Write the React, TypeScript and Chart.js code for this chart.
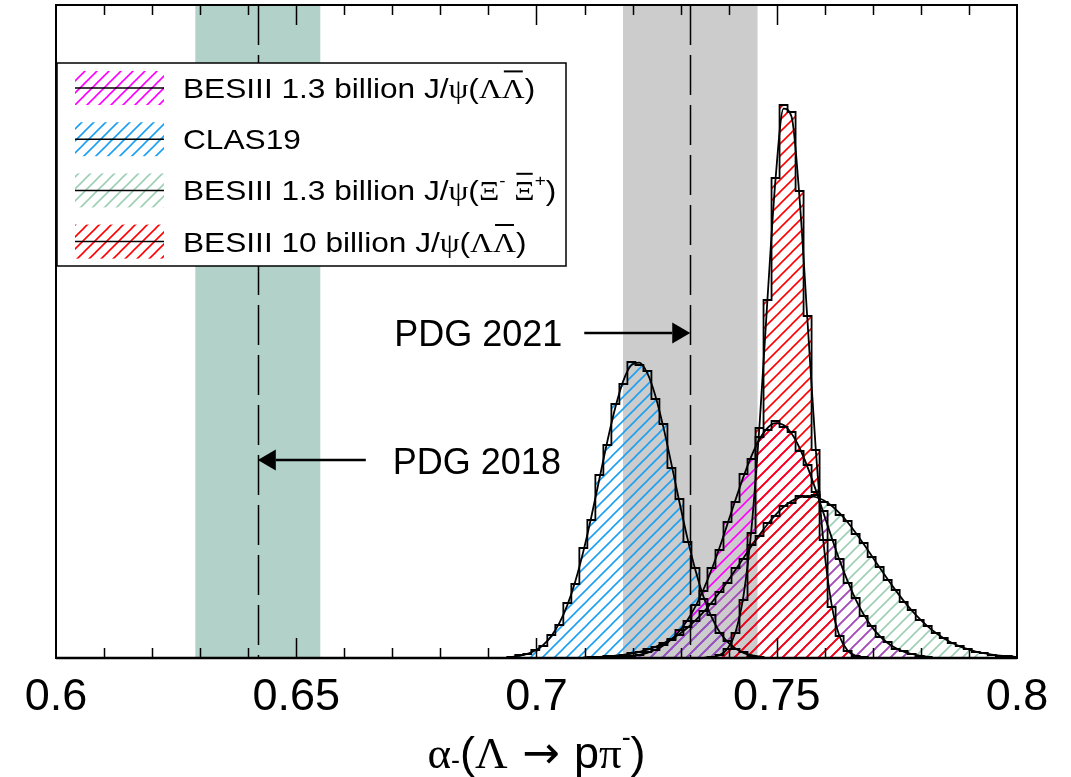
import React, { useEffect, useRef } from 'react';
import { Chart, registerables } from 'chart.js';

Chart.register(...registerables);

// ---------- axis ----------
const X_MIN = 0.6;
const X_MAX = 0.8;
const X_TICKS = [0.6, 0.65, 0.7, 0.75, 0.8];
const X_MINOR_STEP = 0.01;
const Y_MAX = 653;
const BIN_WIDTH = 1 / 600;

// ---------- PDG bands [central, error] ----------
const PDG_2018 = [0.642, 0.013];
const PDG_2021 = [0.732, 0.014];
const PDG_LABELS = ['PDG 2021', 'PDG 2018'];
const PDG_LABEL_Y = [325, 198];

// ---------- series names ----------
const SERIES_NAMES = [
  'BESIII 1.3 billion J/ψ(ΛΛ̄)',
  'CLAS19',
  'BESIII 1.3 billion J/ψ(Ξ⁻ Ξ̄⁺)',
  'BESIII 10 billion J/ψ(ΛΛ̄)',
];

// ---------- CLAS19 ----------
const CLAS_FIRST_EDGE = 0.693917;
const CLAS_HIST = [1, 3, 4, 8, 12, 23, 33, 55, 74, 110, 138, 183, 213, 254, 274, 296, 293, 287, 259, 234, 190, 159, 116, 90, 59, 43, 25, 17, 9, 6, 2, 1];
const CLAS_FIT = [1.1, 2.2, 4.1, 7.5, 13.1, 21.9, 34.8, 52.9, 76.8, 106.6, 141.3, 179.0, 216.8, 250.7, 277.4, 292.8, 295.3, 284.6, 262.1, 230.6, 193.9, 155.7, 119.6, 87.7, 61.4, 41.1, 26.3, 16.1, 9.4, 5.2, 2.8, 1.4];

// ---------- BESIII 1.3 billion J/psi (Lambda Lambdabar) ----------
const BES13_FIRST_EDGE = 0.71725;
const BES13_HIST = [1, 2, 3, 6, 8, 13, 18, 28, 37, 53, 67, 90, 108, 136, 156, 184, 199, 221, 228, 237, 231, 226, 207, 193, 166, 147, 118, 99, 75, 60, 42, 32, 21, 16, 9, 7, 4, 2, 1];
const BES13_FIT = [1.1, 1.9, 3.2, 5.2, 8.2, 12.5, 18.7, 27.0, 37.9, 51.7, 68.5, 88.2, 110.3, 134.1, 158.2, 181.4, 202.1, 218.7, 230.0, 234.8, 232.9, 224.4, 210.0, 190.9, 168.6, 144.6, 120.6, 97.6, 76.8, 58.7, 43.6, 31.4, 22.0, 15.0, 9.9, 6.4, 4.0, 2.4, 1.4];

// ---------- BESIII 1.3 billion J/psi (Xi- Xibar+) ----------
const XI_FIRST_EDGE = 0.708917;
const XI_HIST = [0, 1, 1, 2, 2, 3, 5, 6, 9, 11, 15, 19, 23, 31, 37, 47, 54, 66, 75, 90, 99, 113, 122, 135, 142, 152, 155, 162, 161, 163, 156, 153, 143, 137, 124, 115, 101, 91, 78, 68, 56, 48, 38, 32, 25, 20, 15, 12, 9, 6, 5, 3, 2, 2, 1];
const XI_FIT = [0.5, 0.7, 1.1, 1.6, 2.3, 3.2, 4.5, 6.2, 8.3, 11.1, 14.6, 18.9, 24.1, 30.3, 37.6, 45.9, 55.3, 65.5, 76.6, 88.2, 100.0, 111.9, 123.3, 133.8, 143.2, 151.0, 156.9, 160.6, 162.0, 161.0, 157.7, 152.2, 144.8, 135.7, 125.3, 114.0, 102.3, 90.4, 78.7, 67.6, 57.1, 47.6, 39.1, 31.6, 25.2, 19.8, 15.3, 11.7, 8.8, 6.5, 4.8, 3.4, 2.4, 1.7, 1.2];

// ---------- BESIII 10 billion J/psi (Lambda Lambdabar) ----------
const BES10_FIRST_EDGE = 0.73225;
const BES10_HIST = [0, 0, 1, 3, 9, 25, 58, 125, 230, 358, 480, 553, 546, 467, 342, 208, 118, 51, 22, 7, 2, 1];
const BES10_FIT = [0.03, 0.17, 0.74, 2.8, 9.2, 25.8, 62.3, 129.9, 233.0, 360.0, 479.0, 549.3, 541.3, 459.3, 335.6, 211.3, 114.5, 53.4, 21.5, 7.4, 2.2, 0.6];

// ---------- colours ----------
const COL_BES13 = '#ff00ff';
const COL_CLAS = '#1a9ff2';
const COL_XI = 'rgba(60,160,105,0.5)';
const COL_BES10 = '#ff0000';
const COL_BAND_2018 = '#b2d1c8';
const COL_BAND_2021 = '#cccccc';

const SANS = '"Liberation Sans", Arial, sans-serif';
const SERIF = '"Liberation Serif", "Times New Roman", serif';
const ARROWF = '"DejaVu Sans", sans-serif';

type Seg = { t: string; serif?: boolean; sup?: boolean; sub?: boolean; over?: boolean; fam?: string };

const LEGEND_RICH: Seg[][] = [
  [{ t: 'BESIII 1.3 billion J/' }, { t: 'ψ', serif: true }, { t: '(' }, { t: 'Λ', serif: true }, { t: 'Λ', serif: true, over: true }, { t: ')' }],
  [{ t: 'CLAS19' }],
  [{ t: 'BESIII 1.3 billion J/' }, { t: 'ψ', serif: true }, { t: '(' }, { t: 'Ξ', serif: true }, { t: '-', sup: true }, { t: ' ' }, { t: 'Ξ', serif: true, over: true }, { t: '+', sup: true }, { t: ')' }],
  [{ t: 'BESIII 10 billion J/' }, { t: 'ψ', serif: true }, { t: '(' }, { t: 'Λ', serif: true }, { t: 'Λ', serif: true, over: true }, { t: ')' }],
];

const TITLE_RICH: Seg[] = [
  { t: 'α', serif: true }, { t: '-', sub: true }, { t: '(' }, { t: 'Λ', serif: true }, { t: ' → ', fam: ARROWF },
  { t: 'p' }, { t: 'π', serif: true }, { t: '-', sup: true }, { t: ')' },
];

function histPoints(firstEdge: number, counts: number[]) {
  const pts = [{ x: firstEdge, y: 0 }];
  counts.forEach((c, i) => pts.push({ x: firstEdge + i * BIN_WIDTH, y: c }));
  pts.push({ x: firstEdge + counts.length * BIN_WIDTH, y: 0 });
  return pts;
}

function fitPoints(firstEdge: number, fit: number[]) {
  return fit.map((v, i) => ({ x: firstEdge + (i + 0.5) * BIN_WIDTH, y: v }));
}

function layoutRich(ctx: CanvasRenderingContext2D, segs: Seg[], size: number, scaleX: number) {
  let w = 0;
  const items = segs.map((s) => {
    const fs = s.sup || s.sub ? size * 0.6 : size;
    const fam = s.fam ? s.fam : s.serif ? SERIF : SANS;
    const font = `${fs}px ${fam}`;
    ctx.font = font;
    const sw = ctx.measureText(s.t).width * scaleX;
    const it = { ...s, font, x: w, w: sw };
    w += sw;
    return it;
  });
  return { items, width: w };
}

function drawRich(ctx: CanvasRenderingContext2D, segs: Seg[], x: number, baseline: number, size: number, scaleX: number, align: 'left' | 'center') {
  const { items, width } = layoutRich(ctx, segs, size, scaleX);
  const x0 = align === 'center' ? x - width / 2 : x;
  ctx.fillStyle = '#000';
  ctx.textAlign = 'left';
  ctx.textBaseline = 'alphabetic';
  items.forEach((it) => {
    ctx.font = it.font;
    let y = baseline;
    if (it.sup) y -= size * 0.5;
    if (it.sub) y += size * 0.02;
    ctx.save();
    ctx.translate(x0 + it.x, y);
    ctx.scale(scaleX, 1);
    ctx.fillText(it.t, 0, 0);
    ctx.restore();
    if (it.over) {
      ctx.save();
      ctx.strokeStyle = '#000';
      ctx.lineWidth = 2;
      ctx.beginPath();
      const oy = baseline - size * 0.95;
      ctx.moveTo(x0 + it.x + 2, oy);
      ctx.lineTo(x0 + it.x + it.w - 2, oy);
      ctx.stroke();
      ctx.restore();
    }
  });
}

function arrow(ctx: CanvasRenderingContext2D, xFrom: number, xTo: number, y: number) {
  const dir = xTo > xFrom ? 1 : -1;
  const head = 18;
  ctx.save();
  ctx.strokeStyle = '#000';
  ctx.fillStyle = '#000';
  ctx.lineWidth = 2.5;
  ctx.beginPath();
  ctx.moveTo(xFrom, y);
  ctx.lineTo(xTo - dir * head, y);
  ctx.stroke();
  ctx.beginPath();
  ctx.moveTo(xTo, y);
  ctx.lineTo(xTo - dir * head, y - 10.5);
  ctx.lineTo(xTo - dir * head, y + 10.5);
  ctx.closePath();
  ctx.fill();
  ctx.restore();
}

export default function App() {
  const ref = useRef<HTMLCanvasElement>(null);

  useEffect(() => {
    const canvas = ref.current!;
    const ctx0 = canvas.getContext('2d')!;

    const hatch = (color: string) => {
      const c = document.createElement('canvas');
      c.width = 12;
      c.height = 12;
      const g = c.getContext('2d')!;
      g.strokeStyle = color;
      g.lineWidth = 1.6;
      g.lineCap = 'butt';
      const seg = (x1: number, y1: number, x2: number, y2: number) => {
        g.beginPath();
        g.moveTo(x1, y1);
        g.lineTo(x2, y2);
        g.stroke();
      };
      seg(-3, 15, 15, -3);
      seg(-3, 3, 3, -3);
      seg(9, 15, 15, 9);
      return ctx0.createPattern(c, 'repeat')!;
    };

    const patBes13 = hatch(COL_BES13);
    const patClas = hatch(COL_CLAS);
    const patXi = hatch(COL_XI);
    const patBes10 = hatch(COL_BES10);
    const legendPats = [patBes13, patClas, patXi, patBes10];

    const histDs = (label: string, edge: number, counts: number[], pat: CanvasPattern) => ({
      label,
      data: histPoints(edge, counts),
      stepped: true,
      borderColor: '#000',
      borderWidth: 1.8,
      pointRadius: 0,
      fill: 'origin',
      backgroundColor: pat,
    });
    const fitDs = (label: string, edge: number, fit: number[]) => ({
      label: label + ' fit',
      data: fitPoints(edge, fit),
      borderColor: '#000',
      borderWidth: 1.8,
      pointRadius: 0,
      fill: false,
      cubicInterpolationMode: 'monotone',
    });

    const decor = {
      id: 'decor',
      beforeDraw(chart: any) {
        const { ctx, chartArea: a, scales } = chart;
        const xs = scales.x;
        ctx.save();
        ctx.fillStyle = COL_BAND_2018;
        const b1 = xs.getPixelForValue(PDG_2018[0] - PDG_2018[1]);
        const b2 = xs.getPixelForValue(PDG_2018[0] + PDG_2018[1]);
        ctx.fillRect(b1, a.top, b2 - b1, a.bottom - a.top);
        ctx.fillStyle = COL_BAND_2021;
        const c1 = xs.getPixelForValue(PDG_2021[0] - PDG_2021[1]);
        const c2 = xs.getPixelForValue(PDG_2021[0] + PDG_2021[1]);
        ctx.fillRect(c1, a.top, c2 - c1, a.bottom - a.top);
        ctx.restore();
      },
      afterDraw(chart: any) {
        const { ctx, chartArea: a, scales } = chart;
        const xs = scales.x;
        const ys = scales.y;
        ctx.save();

        // dashed central values
        ctx.strokeStyle = '#000';
        ctx.lineWidth = 1.5;
        ctx.setLineDash([40, 10]);
        [PDG_2018[0], PDG_2021[0]].forEach((v) => {
          const px = Math.round(xs.getPixelForValue(v)) + 0.5;
          ctx.beginPath();
          ctx.moveTo(px, a.top);
          ctx.lineTo(px, a.bottom);
          ctx.stroke();
        });
        ctx.setLineDash([]);

        // frame
        ctx.lineWidth = 2;
        ctx.strokeRect(a.left, a.top, a.right - a.left, a.bottom - a.top);
        ctx.lineWidth = 2.5;
        ctx.beginPath();
        ctx.moveTo(a.left, a.bottom);
        ctx.lineTo(a.right, a.bottom);
        ctx.stroke();

        // ticks
        ctx.lineWidth = 1.5;
        const nMinor = Math.round((X_MAX - X_MIN) / X_MINOR_STEP);
        for (let i = 1; i < nMinor; i++) {
          const v = X_MIN + i * X_MINOR_STEP;
          const major = X_TICKS.some((t) => Math.abs(t - v) < 1e-6);
          const len = major ? 20 : 10;
          const px = Math.round(xs.getPixelForValue(v)) + 0.5;
          ctx.beginPath();
          ctx.moveTo(px, a.bottom);
          ctx.lineTo(px, a.bottom - len);
          ctx.moveTo(px, a.top);
          ctx.lineTo(px, a.top + len);
          ctx.stroke();
        }

        // annotations
        const x21 = xs.getPixelForValue(PDG_2021[0]);
        const y21 = ys.getPixelForValue(PDG_LABEL_Y[0]);
        arrow(ctx, x21 - 106, x21, y21);
        const x18 = xs.getPixelForValue(PDG_2018[0]);
        const y18 = ys.getPixelForValue(PDG_LABEL_Y[1]);
        arrow(ctx, x18 + 108, x18, y18);
        ctx.fillStyle = '#000';
        ctx.font = `36px ${SANS}`;
        ctx.textBaseline = 'alphabetic';
        ctx.textAlign = 'right';
        ctx.fillText(PDG_LABELS[0], x21 - 128, y21 + 13);
        ctx.textAlign = 'left';
        ctx.fillText(PDG_LABELS[1], x18 + 135, y18 + 14);

        // legend
        const L = { left: 57, top: 63, right: 566, bottom: 266 };
        ctx.fillStyle = '#fff';
        ctx.fillRect(L.left, L.top, L.right - L.left, L.bottom - L.top);
        ctx.strokeStyle = '#000';
        ctx.lineWidth = 1.5;
        ctx.strokeRect(L.left, L.top, L.right - L.left, L.bottom - L.top);
        const rowY = [88, 139.2, 190.4, 241.6];
        LEGEND_RICH.forEach((segs, i) => {
          const cy = rowY[i];
          ctx.fillStyle = legendPats[i];
          ctx.fillRect(75, cy - 17, 89, 34);
          ctx.strokeStyle = '#000';
          ctx.lineWidth = 1.5;
          ctx.beginPath();
          ctx.moveTo(75, cy);
          ctx.lineTo(164, cy);
          ctx.stroke();
          drawRich(ctx, segs, 183, cy + 10, 28, 1.13, 'left');
        });

        // axis title
        drawRich(ctx, TITLE_RICH, (a.left + a.right) / 2, 768, 45, 1.0, 'center');

        ctx.restore();
      },
    };

    const chart = new Chart(canvas, {
      type: 'line',
      data: {
        datasets: [
          histDs(SERIES_NAMES[3], BES10_FIRST_EDGE, BES10_HIST, patBes10),
          histDs(SERIES_NAMES[2], XI_FIRST_EDGE, XI_HIST, patXi),
          histDs(SERIES_NAMES[0], BES13_FIRST_EDGE, BES13_HIST, patBes13),
          histDs(SERIES_NAMES[1], CLAS_FIRST_EDGE, CLAS_HIST, patClas),
          fitDs(SERIES_NAMES[3], BES10_FIRST_EDGE, BES10_FIT),
          fitDs(SERIES_NAMES[2], XI_FIRST_EDGE, XI_FIT),
          fitDs(SERIES_NAMES[0], BES13_FIRST_EDGE, BES13_FIT),
          fitDs(SERIES_NAMES[1], CLAS_FIRST_EDGE, CLAS_FIT),
        ] as any,
      },
      options: {
        animation: false,
        responsive: false,
        events: [],
        layout: { padding: { left: 56, right: 54, top: 5, bottom: 0 } },
        plugins: {
          legend: { display: false },
          tooltip: { enabled: false },
          filler: { drawTime: 'beforeDatasetsDraw' },
        } as any,
        scales: {
          x: {
            type: 'linear',
            min: X_MIN,
            max: X_MAX,
            grid: { display: false, drawTicks: false },
            border: { display: false },
            afterBuildTicks: (scale: any) => {
              scale.ticks = X_TICKS.map((v) => ({ value: v }));
            },
            afterFit: (scale: any) => {
              scale.height = 119;
            },
            ticks: {
              autoSkip: false,
              maxRotation: 0,
              padding: 13,
              color: '#000',
              font: { family: SANS, size: 45 },
              callback: (v: any) => String(Number(Number(v).toFixed(2))),
            },
          },
          y: { display: false, min: 0, max: Y_MAX },
        },
      } as any,
      plugins: [decor],
    });

    return () => chart.destroy();
  }, []);

  return (
    <div style={{ position: 'absolute', left: 0, top: 0, width: 1071, height: 777, background: '#fff' }}>
      <canvas ref={ref} width={1071} height={777} style={{ display: 'block', width: 1071, height: 777 }} />
    </div>
  );
}
